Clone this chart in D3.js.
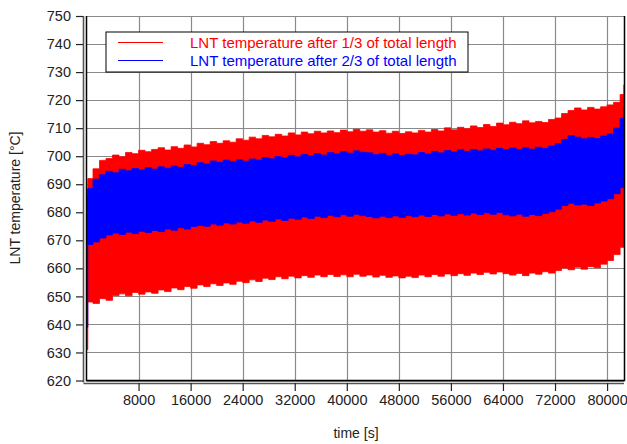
<!DOCTYPE html>
<html>
<head>
<meta charset="utf-8">
<script src="https://cdn.jsdelivr.net/npm/d3@7"></script>
<style>
  body { margin: 0; background: #fff; }
  text { font-family: "Liberation Sans", Arial, sans-serif; }
</style>
</head>
<body>
<script>
//time stamps [s]
var times = [0, 200, 1000, 2000, 3000, 4000, 5000, 6000, 7000, 8000, 9000,
  10000, 11000, 12000, 13000, 14000, 15000, 16000, 17000, 18000, 19000,
  20000, 21000, 22000, 23000, 24000, 25000, 26000, 27000, 28000, 29000,
  30000, 31000, 32000, 33000, 34000, 35000, 36000, 37000, 38000, 39000,
  40000, 41000, 42000, 43000, 44000, 45000, 46000, 47000, 48000, 49000,
  50000, 51000, 52000, 53000, 54000, 55000, 56000, 57000, 58000, 59000,
  60000, 61000, 62000, 63000, 64000, 65000, 66000, 67000, 68000, 69000,
  70000, 71000, 72000, 73000, 74000, 75000, 76000, 77000, 78000, 79000,
  80000, 81000, 82000, 82600];

//after 1/3 of length: upper and lower envelope of the signal
var redHigh = [688, 692, 695.5, 698.5, 699.2, 700.4, 699.8, 701.3, 700.9, 702.1, 701.6,
  702.4, 703.0, 702.2, 703.4, 702.8, 704.0, 703.3, 704.6, 704.1, 705.2,
  704.6, 705.5, 705.0, 706.2, 705.7, 706.8, 706.2, 707.4, 706.9, 707.8,
  707.2, 708.3, 707.6, 708.6, 708.0, 708.9, 708.3, 709.0, 708.4, 709.3,
  708.7, 709.6, 708.9, 709.4, 708.6, 709.1, 708.2, 708.9, 708.1, 708.7,
  708.3, 709.2, 708.6, 709.5, 709.0, 710.1, 709.4, 710.3, 709.8, 710.8,
  710.2, 711.3, 710.6, 711.8, 711.2, 712.1, 711.6, 712.6, 711.9, 712.4,
  712.0, 713.1, 713.6, 715.2, 716.3, 717.2, 716.5, 717.4, 716.8, 717.6,
  718.3, 719.2, 722.0, 725.5];
var redLow = [631, 648, 647.5, 649.2, 648.6, 650.3, 650.9, 650.2, 651.4, 650.8, 651.6,
  651.1, 652.3, 651.7, 653.0, 652.4, 653.5, 652.9, 654.1, 653.5, 654.5,
  653.9, 654.8, 654.3, 655.4, 654.9, 655.9, 655.3, 656.5, 656.0, 657.0,
  656.3, 657.2, 656.6, 657.4, 656.8, 657.6, 657.0, 657.8, 657.1, 657.7,
  657.0, 657.9, 657.2, 657.6, 656.9, 657.5, 656.8, 657.3, 656.6, 657.2,
  656.7, 657.6, 657.0, 657.8, 657.2, 658.0, 657.4, 658.1, 657.5, 658.3,
  657.8, 658.6, 658.0, 658.7, 658.1, 657.6, 658.2, 657.4, 658.3, 657.9,
  658.8, 658.3, 659.2, 660.1, 659.5, 660.4, 659.7, 660.6, 660.2, 661.5,
  662.8, 664.9, 667.5, 670];

//after 2/3 of length
var blueHigh = [686, 688.5, 691.8, 693.4, 694.6, 694.1, 695.3, 694.8, 695.6, 695.1, 695.9,
  695.4, 696.2, 695.7, 696.5, 696.0, 697.0, 696.6, 697.7, 697.2, 698.3,
  697.8, 698.6, 698.0, 698.7, 698.2, 699.0, 698.6, 699.5, 699.1, 699.9,
  699.4, 700.3, 699.8, 700.6, 700.1, 700.9, 700.4, 701.3, 700.8, 701.6,
  701.1, 701.9, 701.4, 701.2, 700.6, 701.0, 700.3, 700.8, 700.2, 700.7,
  700.5, 701.3, 700.8, 701.7, 701.2, 702.0, 701.5, 702.3, 701.7, 702.4,
  701.9, 702.6, 702.1, 702.8, 702.3, 702.9, 702.4, 703.0, 702.5, 703.2,
  702.8, 703.6, 704.5, 706.0, 707.3, 706.8, 706.2, 706.7, 706.3, 707.2,
  707.9, 710.0, 713.5, 717.5];
var blueLow = [639, 668.5, 669.4, 670.8, 671.9, 672.6, 672.1, 672.9, 672.4, 673.2, 672.8,
  673.5, 673.1, 674.0, 673.6, 674.5, 674.0, 674.9, 675.3, 675.0, 675.8,
  675.4, 676.2, 675.8, 676.5, 676.1, 676.9, 676.4, 677.2, 676.8, 677.6,
  677.1, 677.9, 677.5, 678.3, 677.8, 678.6, 678.1, 678.9, 678.4, 679.1,
  678.6, 679.3, 678.8, 678.5, 678.0, 678.6, 678.1, 678.7, 678.2, 678.8,
  678.4, 679.0, 678.5, 679.2, 678.7, 679.4, 678.9, 679.5, 679.0, 679.7,
  679.2, 679.8, 679.3, 679.9, 679.1, 678.7, 679.3, 678.6, 679.2, 678.8,
  679.6, 680.2, 681.1, 682.4, 683.2, 682.6, 682.9, 682.4, 683.3, 684.0,
  684.8, 686.6, 688.8, 690.5];

var xTicks = [8000, 16000, 24000, 32000, 40000, 48000, 56000, 64000, 72000, 80000];
var yTicks = [620, 630, 640, 650, 660, 670, 680, 690, 700, 710, 720, 730, 740, 750];
var legendLabels = ["LNT temperature after 1/3 of total length",
                    "LNT temperature after 2/3 of total length"];
var seriesColors = ["#ff0000", "#0000ff"];

var width = 627,
    height = 444;

var svg = d3.select("body")
    .append("svg")
    .attr("width", width)
    .attr("height", height);

//plot frame
var plotLeft = 86.5, plotRight = 624, plotTop = 16, plotBottom = 380.5;

var x = d3.scaleLinear().domain([0, 82600]).range([plotLeft, plotRight]);
var y = d3.scaleLinear().domain([620, 750]).range([plotBottom, plotTop]);

//grid
svg.append("g").selectAll("line")
    .data(xTicks)
    .enter().append("line")
    .attr("x1", function(d){ return Math.round(x(d)) + 0.5; })
    .attr("x2", function(d){ return Math.round(x(d)) + 0.5; })
    .attr("y1", plotTop).attr("y2", plotBottom)
    .attr("stroke", "#8a8a8a").attr("stroke-width", 1.2);

svg.append("g").selectAll("line")
    .data(yTicks)
    .enter().append("line")
    .attr("y1", function(d){ return Math.round(y(d)) + 0.5; })
    .attr("y2", function(d){ return Math.round(y(d)) + 0.5; })
    .attr("x1", plotLeft).attr("x2", plotRight)
    .attr("stroke", "#8a8a8a").attr("stroke-width", 1.2);

//signals drawn as envelopes
var rows = times.map(function(t, i){
    return {t: t, rh: redHigh[i], rl: redLow[i], bh: blueHigh[i], bl: blueLow[i]};
});

var redArea = d3.area()
    .curve(d3.curveStepAfter)
    .x(function(d){ return x(d.t); })
    .y0(function(d){ return y(d.rl); })
    .y1(function(d){ return y(d.rh); });

var blueArea = d3.area()
    .curve(d3.curveStepAfter)
    .x(function(d){ return x(d.t); })
    .y0(function(d){ return y(d.bl); })
    .y1(function(d){ return y(d.bh); });

svg.append("path")
    .datum(rows)
    .attr("d", redArea)
    .attr("fill", seriesColors[0])
    .attr("stroke", seriesColors[0])
    .attr("stroke-width", 0.8);

svg.append("path")
    .datum(rows)
    .attr("d", blueArea)
    .attr("fill", seriesColors[1])
    .attr("stroke", seriesColors[1])
    .attr("stroke-width", 0.8);

//frame (left, bottom, right)
svg.append("path")
    .attr("d", "M" + plotLeft + "," + plotTop + "V" + plotBottom + "H" + (plotRight + 0.5) + "V" + plotTop)
    .attr("fill", "none")
    .attr("stroke", "#000")
    .attr("stroke-width", 1.5);

//offset axes
var yAxis = d3.axisLeft(y)
    .tickValues(yTicks)
    .tickSize(7)
    .tickPadding(5)
    .tickFormat(d3.format("d"));

var gy = svg.append("g")
    .attr("transform", "translate(83,0)")
    .call(yAxis);

var xAxis = d3.axisBottom(x)
    .tickValues(xTicks)
    .tickSize(8)
    .tickPadding(4)
    .tickFormat(d3.format("d"));

var gx = svg.append("g")
    .attr("transform", "translate(0,383)")
    .call(xAxis);

[gx, gy].forEach(function(g){
    g.select(".domain").attr("stroke", "#555").attr("stroke-width", 1.6);
    g.selectAll(".tick line").attr("stroke", "#222").attr("stroke-width", 1.2);
    g.selectAll(".tick text")
        .attr("font-size", 14.5)
        .attr("font-family", "Liberation Sans, Arial, sans-serif")
        .attr("fill", "#222");
});
gx.select(".domain").attr("d", "M" + (plotLeft - 3) + ",0.5H" + plotRight);
gy.select(".domain").attr("d", "M0.5," + plotTop + "V" + (plotBottom + 2));

//axis titles
svg.append("text")
    .attr("x", 356)
    .attr("y", 438)
    .attr("text-anchor", "middle")
    .attr("font-size", 14)
    .attr("fill", "#222")
    .text("time [s]");

svg.append("text")
    .attr("transform", "translate(20,198) rotate(-90)")
    .attr("text-anchor", "middle")
    .attr("font-size", 14)
    .attr("fill", "#222")
    .text("LNT temperature [°C]");

//legend
var legend = svg.append("g");

legend.append("rect")
    .attr("x", 106).attr("y", 32)
    .attr("width", 362).attr("height", 40)
    .attr("fill", "#fff")
    .attr("stroke", "#000")
    .attr("stroke-width", 1);

legendLabels.forEach(function(label, i){
    var ly = 42.5 + i * 18;
    legend.append("line")
        .attr("x1", 118).attr("x2", 163)
        .attr("y1", ly).attr("y2", ly)
        .attr("stroke", seriesColors[i])
        .attr("stroke-width", 1);
    legend.append("text")
        .attr("x", 190)
        .attr("y", ly + 5.5)
        .attr("font-size", 15)
        .attr("fill", seriesColors[i])
        .text(label);
});
</script>
</body>
</html>
